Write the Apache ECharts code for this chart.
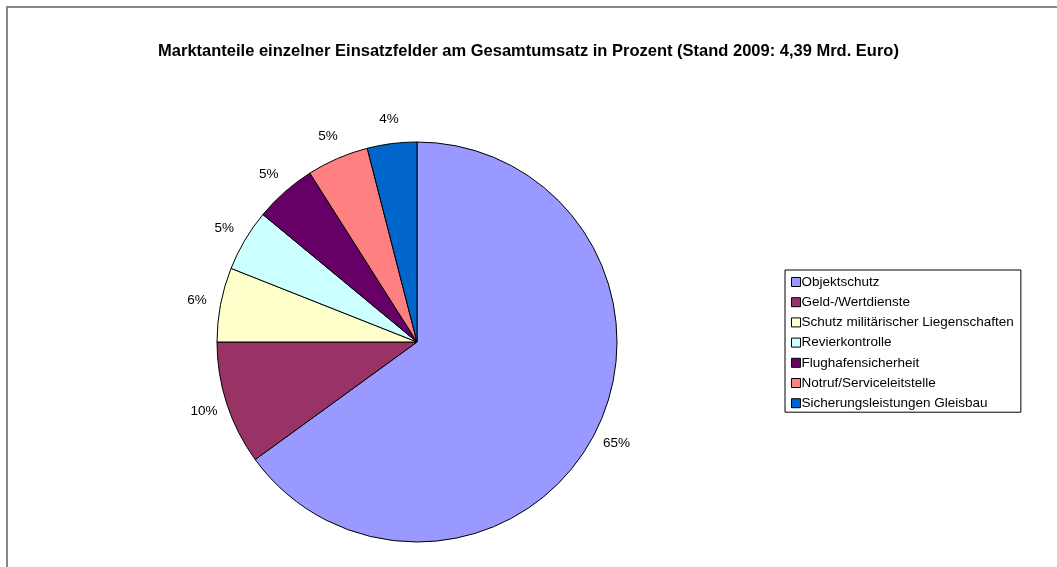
<!DOCTYPE html>
<html>
<head>
<meta charset="utf-8">
<script src="https://cdn.jsdelivr.net/npm/echarts@6/dist/echarts.min.js"></script>
<style>
html,body{margin:0;padding:0;background:#fff;}
#chart{width:1057px;height:567px;}
</style>
</head>
<body>
<div id="chart"></div>
<script>
const categories = [
  'Objektschutz',
  'Geld-/Wertdienste',
  'Schutz militärischer Liegenschaften',
  'Revierkontrolle',
  'Flughafensicherheit',
  'Notruf/Serviceleitstelle',
  'Sicherungsleistungen Gleisbau'
];
const values = [65, 10, 6, 5, 5, 5, 4];
const colors = ['#9999FF', '#993366', '#FFFFCC', '#CCFFFF', '#660066', '#FF8080', '#0066CC'];
const titleText = 'Marktanteile einzelner Einsatzfelder am Gesamtumsatz in Prozent (Stand 2009: 4,39 Mrd. Euro)';

const pieData = categories.map((c, i) => ({ name: c, value: values[i], itemStyle: { color: colors[i] } }));
const labelData = categories.map((c, i) => ({ name: c, value: values[i] }));

const chart = echarts.init(document.getElementById('chart'), null, { renderer: 'canvas' });
chart.setOption({
  animation: false,
  backgroundColor: '#fff',
  title: {
    text: titleText,
    left: 'center',
    top: 38,
    textStyle: { fontFamily: 'Liberation Sans, Arial, sans-serif', fontSize: 16.5, fontWeight: 'bold', color: '#000' }
  },
  graphic: [{
    type: 'rect',
    shape: { x: 7, y: 7, width: 1200, height: 700 },
    style: { fill: 'none', stroke: '#878787', lineWidth: 2 },
    silent: true
  }],
  legend: {
    orient: 'vertical',
    left: 785,
    top: 270,
    data: categories,
    icon: 'rect',
    itemWidth: 9,
    itemHeight: 9,
    itemGap: 6.2,
    padding: [5, 7, 2, 6],
    borderColor: '#000',
    borderWidth: 1,
    itemStyle: { borderColor: '#000', borderWidth: 1 },
    textStyle: { fontFamily: 'Liberation Sans, Arial, sans-serif', fontSize: 13.5, color: '#000', padding: [0, 0, 0, -4], lineHeight: 14 },
    selectedMode: false
  },
  series: [
    {
      type: 'pie',
      center: [417, 342],
      radius: [0, 200],
      startAngle: 90,
      clockwise: true,
      label: { show: false },
      labelLine: { show: false },
      itemStyle: { borderColor: '#000', borderWidth: 1 },
      emphasis: { disabled: true },
      data: pieData
    },
    {
      type: 'pie',
      center: [417, 342],
      radius: [200, 242],
      startAngle: 90,
      clockwise: true,
      silent: true,
      legendHoverLink: false,
      itemStyle: { color: 'rgba(0,0,0,0)' },
      label: {
        show: true,
        position: 'inside',
        formatter: '{c}%',
        fontFamily: 'Liberation Sans, Arial, sans-serif',
        fontSize: 13.5,
        color: '#000'
      },
      labelLine: { show: false },
      emphasis: { disabled: true },
      data: labelData
    }
  ]
});
</script>
</body>
</html>
